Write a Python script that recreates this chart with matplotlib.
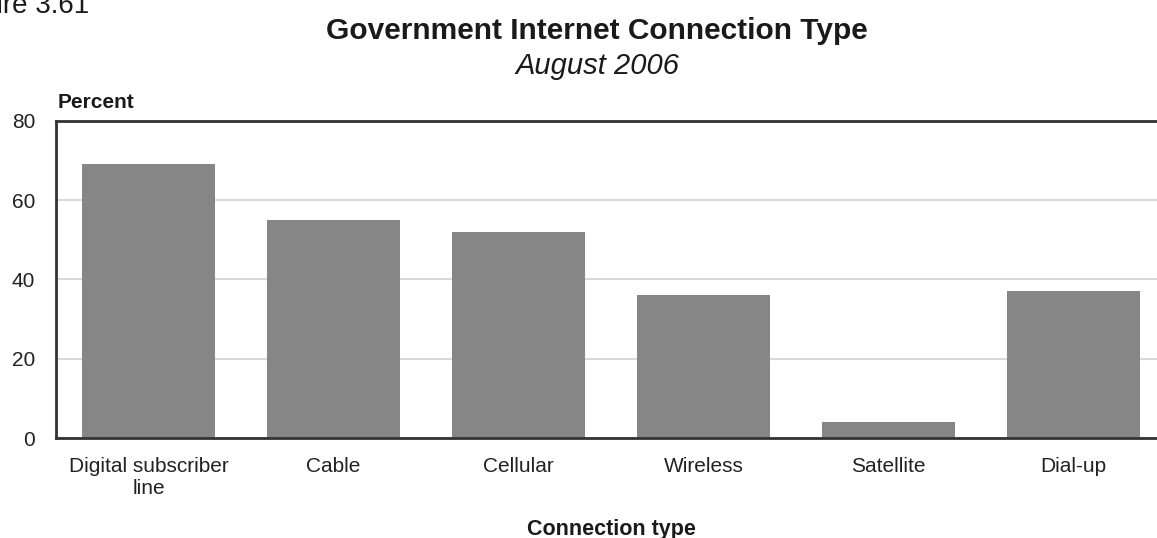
import matplotlib
matplotlib.use("Agg")
import matplotlib.pyplot as plt

# values
categories = ["Digital subscriber\nline", "Cable", "Cellular", "Wireless", "Satellite", "Dial-up"]
percent = [69, 55, 52, 36, 4, 37]
yticks = [0, 20, 40, 60, 80]

plt.rcParams["font.family"] = ["Liberation Sans", "DejaVu Sans"]

fig = plt.figure(figsize=(11.57, 5.38), dpi=100)
W, H = 1157, 538
ax = fig.add_axes([56 / W, (H - 438) / H, 1110 / W, (438 - 120.7) / H])

x = range(len(categories))
ax.bar(x, percent, width=0.72, color="#868686", zorder=2)

ax.set_xlim(-0.5, len(categories) - 0.5)
ax.set_ylim(0, 80)
ax.set_yticks(yticks)
ax.set_xticks(list(x))
ax.set_xticklabels(categories, fontsize=15, color="#222222", linespacing=1.2)
ax.tick_params(axis="y", length=0, pad=15, labelsize=15, labelcolor="#222222")
ax.tick_params(axis="x", length=0, pad=14)
ax.grid(axis="y", color="#d9d9d9", linewidth=1.5, zorder=0)

for side in ["left", "bottom", "top"]:
    ax.spines[side].set_color("#333333")
    ax.spines[side].set_linewidth(2.0)
ax.spines["right"].set_visible(False)

fig.text(597 / W, 1 - 39 / H, "Government Internet Connection Type", ha="center", va="baseline",
         fontsize=21.5, fontweight="bold", color="#1a1a1a")
fig.text(597 / W, 1 - 74 / H, "August 2006", ha="center", va="baseline",
         fontsize=21, fontstyle="italic", color="#1a1a1a")
fig.text(58 / W, 1 - 108 / H, "Percent", ha="left", va="baseline",
         fontsize=15, fontweight="bold", color="#1a1a1a")
fig.text(611.5 / W, 1 - 535 / H, "Connection type", ha="center", va="baseline",
         fontsize=15.5, fontweight="bold", color="#1a1a1a")
# figure number, cut off at the top edge as in the source page
fig.text(89 / W, 1 - 13 / H, "Figure 3.61", ha="right", va="baseline",
         fontsize=20, color="#1a1a1a")

fig.savefig("out.png", dpi=100)
